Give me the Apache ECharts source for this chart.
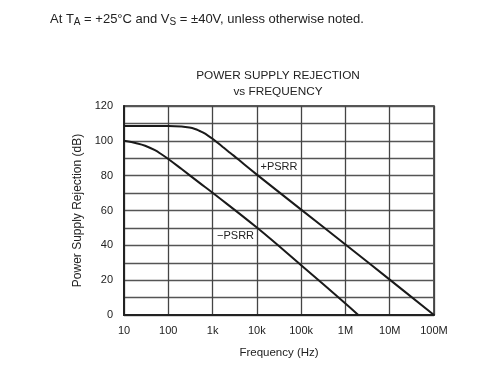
<!DOCTYPE html>
<html>
<head>
<meta charset="utf-8">
<script src="https://cdn.jsdelivr.net/npm/echarts@6/dist/echarts.min.js"></script>
<style>
html,body{margin:0;padding:0;background:#fff;}
#c{width:500px;height:381px;}
</style>
</head>
<body>
<div id="c"></div>
<script>
// Data
const freqTicks = [10, 100, 1e3, 1e4, 1e5, 1e6, 1e7, 1e8];
const freqTickLabels = ['10', '100', '1k', '10k', '100k', '1M', '10M', '100M'];
const yTicks = [0, 20, 40, 60, 80, 100, 120];

const posFreq = [10, 100, 200, 300, 400, 500, 600, 800, 1000, 1300, 1700, 2200, 3000, 5000, 1e4, 1e5, 1e6, 1e7, 1e8];
const posPSRR = [108.5, 108.5, 108.2, 107.6, 106.8, 105.8, 104.8, 102.9, 101.2, 98.9, 96.5, 94.2, 91.5, 86.8, 80.6, 60.5, 40.5, 20.3, 0];

const negFreq = [10, 20, 30, 50, 70, 100, 200, 500, 1000, 1e4, 1e5, 1e6, 1.95e6];
const negPSRR = [100, 98.5, 97.2, 94.6, 92.3, 89.6, 83.8, 76, 70.2, 50.2, 28.6, 6.6, 0];

const posLabel = {name: '+PSRR', freq: 3.16e4, db: 85};
const negLabel = {name: '\u2212PSRR', freq: 3.3e3, db: 45.3};

const chart = echarts.init(document.getElementById('c'), null, {renderer: 'canvas'});
const fontFamily = '"Liberation Sans", Arial, sans-serif';
const labelMap = {};
freqTicks.forEach((f, i) => { labelMap[Math.round(Math.log10(f))] = freqTickLabels[i]; });

function zip(xs, ys) { return xs.map((x, i) => [x, ys[i]]); }

chart.setOption({
  animation: false,
  textStyle: {fontFamily: fontFamily},
  grid: {left: 124, top: 106, right: 66, bottom: 66, show: true, borderColor: '#222', borderWidth: 1.5, backgroundColor: 'transparent'},
  graphic: [
    {type: 'text', left: 50, top: 13, style: {
      text: 'At T{sub|A} = +25°C and V{sub|S} = ±40V, unless otherwise noted.',
      font: '13px ' + fontFamily, fill: '#222',
      rich: {sub: {fontSize: 10, fontFamily: fontFamily, fill: '#222', padding: [6, 0, 0, 0]}}
    }},
    {type: 'text', x: 278, y: 76, style: {text: 'POWER SUPPLY REJECTION', font: '11.8px ' + fontFamily, fill: '#222', textAlign: 'center', textVerticalAlign: 'middle'}},
    {type: 'text', x: 278, y: 92, style: {text: 'vs FREQUENCY', font: '11.8px ' + fontFamily, fill: '#222', textAlign: 'center', textVerticalAlign: 'middle'}}
  ],
  xAxis: {
    type: 'log', logBase: 10, min: 10, max: 1e8,
    name: 'Frequency (Hz)', nameLocation: 'middle', nameGap: 32,
    nameTextStyle: {fontSize: 11.5, color: '#222', fontFamily: fontFamily},
    axisLine: {show: true, lineStyle: {color: '#222', width: 2}},
    axisTick: {show: false},
    axisLabel: {fontSize: 11, color: '#222', margin: 10, fontFamily: fontFamily,
      formatter: v => labelMap[Math.round(Math.log10(v))] || ''},
    splitLine: {show: true, lineStyle: {color: '#444', width: 1.3}},
    minorTick: {show: false}
  },
  yAxis: {
    type: 'value', min: 0, max: 120, interval: 10,
    name: 'Power Supply Rejection (dB)', nameLocation: 'middle', nameGap: 30,
    nameTextStyle: {fontSize: 12, color: '#222', fontFamily: fontFamily},
    axisLine: {show: true, lineStyle: {color: '#222', width: 2}},
    axisTick: {show: false},
    axisLabel: {fontSize: 11, color: '#222', margin: 11, fontFamily: fontFamily,
      formatter: v => yTicks.indexOf(v) >= 0 ? String(v) : ''},
    splitLine: {show: true, lineStyle: {color: '#555', width: 1.3}}
  },
  series: [
    {type: 'line', name: '+PSRR', data: zip(posFreq, posPSRR), showSymbol: false, smooth: 0.4,
      lineStyle: {color: '#1a1a1a', width: 2}, z: 5,
      markPoint: {symbol: 'rect', symbolSize: [38, 12], itemStyle: {color: '#fff'},
        label: {show: true, formatter: posLabel.name, color: '#222', fontSize: 11, fontFamily: fontFamily},
        data: [{coord: [posLabel.freq, posLabel.db]}]}},
    {type: 'line', name: '-PSRR', data: zip(negFreq, negPSRR), showSymbol: false, smooth: 0.4,
      lineStyle: {color: '#1a1a1a', width: 2}, z: 5,
      markPoint: {symbol: 'rect', symbolSize: [40, 12], itemStyle: {color: '#fff'},
        label: {show: true, formatter: negLabel.name, color: '#222', fontSize: 11, fontFamily: fontFamily},
        data: [{coord: [negLabel.freq, negLabel.db]}]}}
  ]
});
</script>
</body>
</html>
